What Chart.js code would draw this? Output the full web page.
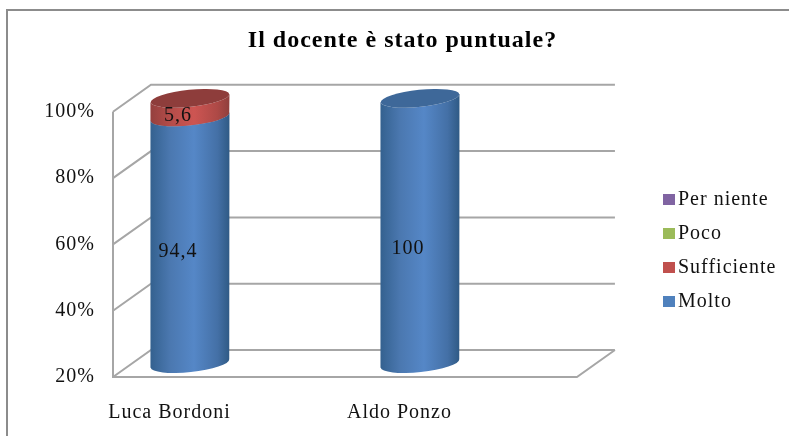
<!DOCTYPE html>
<html>
<head>
<meta charset="utf-8">
<title>Il docente è stato puntuale?</title>
<script src="https://cdn.jsdelivr.net/npm/chart.js@4"></script>
<style>
  html, body { margin: 0; padding: 0; background: #fff; }
  canvas { display: block; }
</style>
</head>
<body>
<canvas id="chart" width="789" height="436"></canvas>
<script>
const docenti = ['Luca Bordoni', 'Aldo Ponzo'];
const molto = [94.4, 100];
const sufficiente = [5.6, 0];
const poco = [0, 0];
const perNiente = [0, 0];
const yTicks = [20, 40, 60, 80, 100];

const FONT = "'Liberation Serif', 'Times New Roman', serif";
const GRID = '#a6a6a6';
const FRAME = '#8c8c8c';
const DEPTH_X = 38, DEPTH_Y = 27;   // shift of the back wall
const PLANE_END = 1.765;            // right end of the front plane on the x scale
const CYL_RX = 39.5, CYL_RY = 8.5, CYL_TILT = -0.105;
const LABEL_DY = { Molto: [-2, 4], Sufficiente: [-5, 0] };

const points = values => values.map((v, i) => ({ x: i, y: v }));

// side of a cylinder: horizontal shading, darker at both edges
function sideGradient(ctx, cx, stops) {
  const g = ctx.createLinearGradient(cx - CYL_RX, 0, cx + CYL_RX, 0);
  g.addColorStop(0, stops[0]);
  g.addColorStop(0.25, stops[1]);
  g.addColorStop(0.55, stops[2]);
  g.addColorStop(0.85, stops[3]);
  g.addColorStop(1, stops[4]);
  return g;
}

function cylinderPart(ctx, cx, yTop, yBottom, side, topColor) {
  const dx = CYL_RX, tilt = Math.tan(CYL_TILT) * CYL_RX;
  ctx.beginPath();
  ctx.moveTo(cx - dx, yTop - tilt);
  ctx.lineTo(cx - dx, yBottom - tilt);
  ctx.ellipse(cx, yBottom, CYL_RX, CYL_RY, CYL_TILT, Math.PI, 0, true);
  ctx.lineTo(cx + dx, yTop + tilt);
  ctx.ellipse(cx, yTop, CYL_RX, CYL_RY, CYL_TILT, 0, Math.PI, false);
  ctx.closePath();
  ctx.fillStyle = sideGradient(ctx, cx, side);
  ctx.fill();
  if (topColor) {
    ctx.beginPath();
    ctx.ellipse(cx, yTop, CYL_RX, CYL_RY, CYL_TILT, 0, Math.PI * 2);
    ctx.fillStyle = topColor;
    ctx.fill();
  }
}

const cylinderLook = {
  Molto: { side: ['#34618f', '#4b78b0', '#5587c7', '#4470a6', '#2f5a85'], top: '#3e6899' },
  Sufficiente: { side: ['#94403e', '#b44c49', '#cd5552', '#ad4946', '#8f3f3d'], top: '#8e3d3b' },
};

const cylinders3d = {
  id: 'cylinders3d',
  beforeLayout(chart) { chart.ctx.letterSpacing = '1px'; },
  beforeDraw(chart) {
    const { ctx } = chart;
    ctx.letterSpacing = '1px';
    // outer frame, open at the right and at the bottom
    ctx.save();
    ctx.strokeStyle = FRAME;
    ctx.lineWidth = 2;
    ctx.beginPath();
    ctx.moveTo(7, chart.height);
    ctx.lineTo(7, 10);
    ctx.lineTo(chart.width, 10);
    ctx.stroke();
    ctx.restore();
  },
  beforeDatasetsDraw(chart) {
    const { ctx, chartArea: a, scales: { x, y } } = chart;
    const right = x.getPixelForValue(PLANE_END);
    ctx.save();
    ctx.strokeStyle = GRID;
    ctx.lineWidth = 2;
    ctx.beginPath();
    // left wall with its gridlines, then the back wall and floor
    yTicks.forEach(t => {
      const py = y.getPixelForValue(t);
      ctx.moveTo(a.left, py);
      ctx.lineTo(a.left + DEPTH_X, py - DEPTH_Y);
      ctx.lineTo(right + DEPTH_X, py - DEPTH_Y);
    });
    ctx.moveTo(a.left, a.top);
    ctx.lineTo(a.left, a.bottom);
    ctx.lineTo(right, a.bottom);
    ctx.lineTo(right + DEPTH_X, a.bottom - DEPTH_Y);
    ctx.stroke();
    ctx.restore();
  },
  // the flat bars are replaced by the cylinders below
  beforeDatasetDraw() { return false; },
  afterDatasetsDraw(chart) {
    const { ctx, scales: { y } } = chart;
    const floor = y.getPixelForValue(20);
    ctx.save();
    ctx.letterSpacing = '0px';
    chart.data.datasets.forEach((ds, i) => {
      const look = cylinderLook[ds.label];
      if (!look) return;
      chart.getDatasetMeta(i).data.forEach((bar, j) => {
        if (!ds.data[j].y) return;
        const cx = bar.x + DEPTH_X / 2;
        const yTop = bar.y - DEPTH_Y / 2;
        const yBottom = Math.min(bar.base, floor) - DEPTH_Y / 2;
        cylinderPart(ctx, cx, yTop, yBottom, look.side, look.top);
      });
    });
    // value labels on top of every part
    ctx.letterSpacing = '1px';
    ctx.font = '20px ' + FONT;
    ctx.fillStyle = '#111';
    ctx.textAlign = 'center';
    ctx.textBaseline = 'middle';
    chart.data.datasets.forEach((ds, i) => {
      chart.getDatasetMeta(i).data.forEach((bar, j) => {
        if (!ds.data[j].y) return;
        const mid = (bar.y + Math.min(bar.base, floor)) / 2;
        ctx.fillText(String(ds.data[j].y).replace('.', ','), bar.x + 7, mid + LABEL_DY[ds.label][j]);
      });
    });
    ctx.restore();
    drawLegend(chart);
  },
};

// legend sits far from the plot and has a tight box-to-text gap
function drawLegend(chart) {
  const { ctx } = chart;
  const rows = chart.data.datasets.slice().reverse();
  ctx.save();
  ctx.letterSpacing = '1px';
  ctx.font = '20px ' + FONT;
  ctx.textBaseline = 'middle';
  ctx.textAlign = 'left';
  rows.forEach((ds, i) => {
    const rowY = 199 + i * 34;
    ctx.fillStyle = ds.backgroundColor;
    ctx.fillRect(663, rowY - 5, 12, 11);
    ctx.fillStyle = '#111';
    ctx.fillText(ds.label, 678, rowY + 1);
  });
  ctx.restore();
}

new Chart(document.getElementById('chart'), {
  type: 'bar',
  data: {
    datasets: [
      { label: 'Molto', data: points(molto), backgroundColor: '#4f81bd' },
      { label: 'Sufficiente', data: points(sufficiente), backgroundColor: '#c0504d' },
      { label: 'Poco', data: points(poco), backgroundColor: '#9bbb59' },
      { label: 'Per niente', data: points(perNiente), backgroundColor: '#8064a2' },
    ],
  },
  options: {
    responsive: false,
    animation: false,
    layout: { padding: { left: 16, right: 0, top: 0, bottom: 0 } },
    barThickness: 78,
    scales: {
      x: {
        type: 'linear',
        offset: false,
        stacked: true,
        min: -0.252,
        max: 2.687,
        grid: { display: false },
        border: { display: false },
        afterBuildTicks: s => { s.ticks = docenti.map((_, i) => ({ value: i })); },
        afterFit: s => { s.height = 59; },
        ticks: {
          autoSkip: false,
          maxRotation: 0,
          padding: 16,
          labelOffset: -1.5,
          color: '#111',
          font: { family: FONT, size: 20 },
          callback: v => docenti[v],
        },
      },
      y: {
        stacked: true,
        min: 20,
        max: 100,
        grid: { display: false },
        border: { display: false },
        afterFit: s => { s.width = 97; },
        afterBuildTicks: s => { s.ticks = yTicks.map(v => ({ value: v })); },
        ticks: {
          padding: 10,
          color: '#111',
          font: { family: FONT, size: 20 },
          callback: v => v + '%',
        },
      },
    },
    plugins: {
      legend: { display: false },
      tooltip: { enabled: false },
      title: {
        display: true,
        text: 'Il docente è stato puntuale?',
        color: '#000',
        font: { family: FONT, size: 24, weight: 'bold' },
        padding: { top: 26, bottom: 57 },
      },
    },
  },
  plugins: [cylinders3d],
});
</script>
</body>
</html>
